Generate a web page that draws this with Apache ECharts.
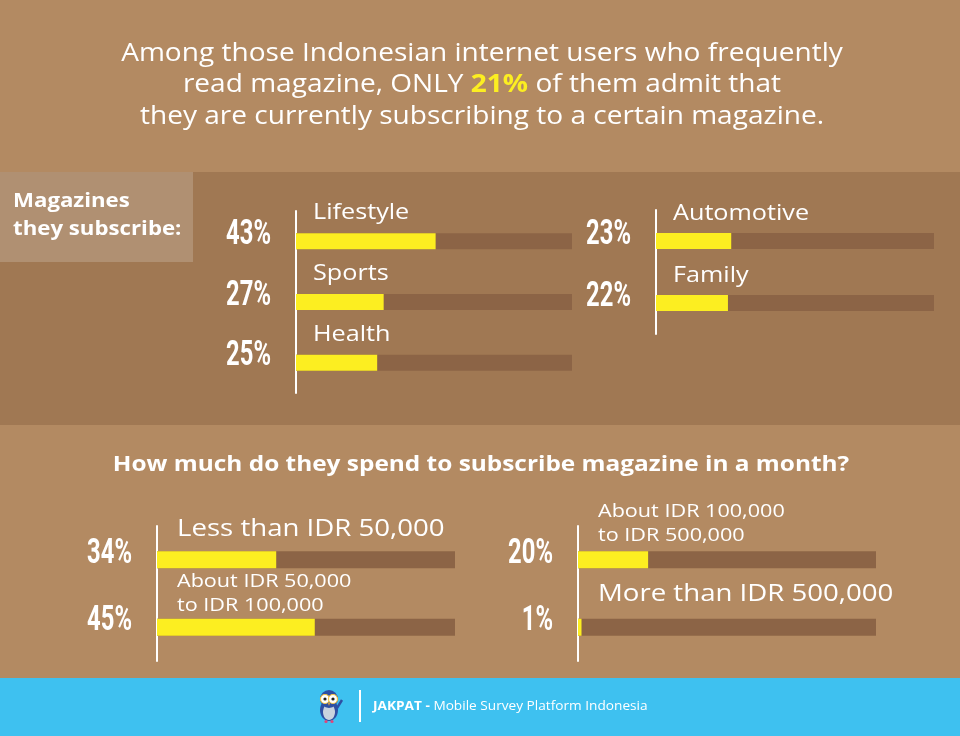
<!DOCTYPE html>
<html><head><meta charset="utf-8">
<script src="https://cdn.jsdelivr.net/npm/echarts@6/dist/echarts.min.js"></script>
<style>html,body{margin:0;padding:0;background:#B38A62}#c{width:960px;height:736px}</style>
</head><body><div id="c"></div>
<script>
// ---- data ----
const magazineCategoriesLeft = ['Lifestyle', 'Sports', 'Health'];
const magazineValuesLeft = [43, 27, 25];
const magazineCategoriesRight = ['Automotive', 'Family'];
const magazineValuesRight = [23, 22];
const spendCategoriesLeft = ['Less than IDR 50,000', 'About IDR 50,000\nto IDR 100,000'];
const spendValuesLeft = [34, 45];
const spendCategoriesRight = ['About IDR 100,000\nto IDR 500,000', 'More than IDR 500,000'];
const spendValuesRight = [20, 1];
const subscribingShare = 21;

const titleLines = [
  'Among those Indonesian internet users who frequently',
  'read magazine, ONLY {y|' + subscribingShare + '%} of them admit that',
  'they are currently subscribing to a certain magazine.'
];
const sectionLabel = 'Magazines\nthey subscribe:';
const spendQuestion = 'How much do they spend to subscribe magazine in a month?';

// ---- style ----
const TAN = '#B38A62', BAND = '#A07853', BOX = '#B09072', TRACK = '#8C6446',
      YELLOW = '#FCEE21', CYAN = '#3EC1F0';
const LABEL_FONT = '"Open Sans", "Noto Sans", sans-serif';
const PCT_FONT = 'Roboto, "Open Sans", sans-serif';
const WIDEN = 1.2;
const TRACK_MAX = 85;

const groups = [
  {cats: magazineCategoriesLeft, vals: magazineValuesLeft, grid: {left: 296, top: 211, width: 276, height: 182}, bw: 16, lx: 17, ly: -20, fs: 21},
  {cats: magazineCategoriesRight, vals: magazineValuesRight, grid: {left: 656, top: 210, width: 278, height: 124}, bw: 16, lx: 17, ly: -19, fs: 21},
  {cats: spendCategoriesLeft, vals: spendValuesLeft, grid: {left: 157, top: 526, width: 298, height: 135}, bw: 17, lx: 20, ly: -22, fs: 23},
  {cats: spendCategoriesRight, vals: spendValuesRight, grid: {left: 578, top: 526, width: 298, height: 135}, bw: 17, lx: 20, ly: -24, fs: 23}
];

const grid = [], xAxis = [], yAxis = [], series = [];
groups.forEach((g, i) => {
  grid.push(Object.assign({containLabel: false}, g.grid));
  xAxis.push({type: 'value', gridIndex: i, min: 0, max: TRACK_MAX, show: false});
  yAxis.push({
    type: 'category', gridIndex: i, inverse: true, data: g.cats,
    axisLine: {show: true, lineStyle: {color: '#ffffff', width: 2}},
    axisTick: {show: false}, splitLine: {show: false}, axisLabel: {show: false}
  });
  series.push({
    type: 'bar', xAxisIndex: i, yAxisIndex: i, barWidth: g.bw,
    itemStyle: {color: YELLOW},
    showBackground: true, backgroundStyle: {color: TRACK},
    data: g.vals.slice()
  });
  // text labels (percent on the left of the axis, category name above the bar)
  series.push({
    type: 'custom', xAxisIndex: i, yAxisIndex: i, clip: false, z: 5,
    encode: {x: 0, y: 1},
    data: g.vals.map((v, idx) => [v, idx]),
    renderItem: (params, api) => {
      const idx = api.value(1);
      const pt = api.coord([0, idx]);
      const cat = g.cats[idx];
      const multi = cat.indexOf('\n') >= 0;
      const fs = multi ? 18 : g.fs;
      return {
        type: 'group',
        children: [
          {type: 'text', x: pt[0] - 25, y: pt[1] - 6, scaleX: 0.68,
           style: {text: g.vals[idx] + '%', fill: '#fff', fontFamily: PCT_FONT, fontWeight: 'bold',
                   fontSize: 35, align: 'right', verticalAlign: 'middle'}},
          {type: 'text', x: pt[0] + g.lx, y: pt[1] - g.bw / 2 + (multi ? g.ly - 3 : g.ly), scaleX: WIDEN,
           style: {text: cat, fill: '#fff', fontFamily: LABEL_FONT, fontSize: fs,
                   lineHeight: multi ? 24 : fs + 4, align: 'left', verticalAlign: 'middle'}}
        ]
      };
    }
  });
});

const graphic = [
  {type: 'rect', z: -10, shape: {x: 0, y: 172, width: 960, height: 253}, style: {fill: BAND}},
  {type: 'rect', z: -9, shape: {x: 0, y: 172, width: 193, height: 90}, style: {fill: BOX}},
  {type: 'text', z: 5, x: 13, y: 216, scaleX: 1.17, style: {
    text: sectionLabel, fill: '#fff', font: 'bold 19px ' + LABEL_FONT, lineHeight: 28,
    verticalAlign: 'middle', align: 'left'}},
  {type: 'text', z: 5, x: 482, y: 85, scaleX: 1.1, style: {
    text: titleLines.join('\n'), fill: '#fff', font: '25.5px ' + LABEL_FONT, lineHeight: 31.5,
    align: 'center', verticalAlign: 'middle',
    rich: {y: {fill: YELLOW, fontWeight: 'bold', fontSize: 25.5, fontFamily: LABEL_FONT}}}},
  {type: 'text', z: 5, x: 481, y: 465, scaleX: 1.19, style: {
    text: spendQuestion, fill: '#fff', font: 'bold 20.5px ' + LABEL_FONT,
    align: 'center', verticalAlign: 'middle'}},
  // footer
  {type: 'rect', z: -10, shape: {x: 0, y: 678, width: 960, height: 58}, style: {fill: CYAN}},
  {type: 'line', z: 5, shape: {x1: 360, y1: 690, x2: 360, y2: 722}, style: {stroke: '#fff', lineWidth: 2}},
  {type: 'text', z: 5, x: 373, y: 706, scaleX: 1.05, style: {
    text: '{b|JAKPAT -} Mobile Survey Platform Indonesia', fill: '#fff', font: '13px ' + LABEL_FONT,
    verticalAlign: 'middle', align: 'left',
    rich: {b: {fontWeight: 'bold', fontSize: 13, fill: '#fff', fontFamily: LABEL_FONT}}}},
  // owl icon
  {type: 'group', z: 5, x: 318, y: 688, children: [
    {type: 'ellipse', shape: {cx: 11, cy: 22, rx: 9, ry: 11}, style: {fill: '#2E4FA3'}},
    {type: 'ellipse', shape: {cx: 11, cy: 24, rx: 6, ry: 8}, style: {fill: '#C9D3DE'}},
    {type: 'circle', shape: {cx: 11, cy: 11, r: 9}, style: {fill: '#2E4FA3'}},
    {type: 'circle', shape: {cx: 7, cy: 11, r: 4.5}, style: {fill: '#fff', stroke: '#F5C542', lineWidth: 1.2}},
    {type: 'circle', shape: {cx: 15, cy: 11, r: 4.5}, style: {fill: '#fff', stroke: '#F5C542', lineWidth: 1.2}},
    {type: 'circle', shape: {cx: 7, cy: 11, r: 1.6}, style: {fill: '#222'}},
    {type: 'circle', shape: {cx: 15, cy: 11, r: 1.6}, style: {fill: '#222'}},
    {type: 'polygon', shape: {points: [[10, 15], [12, 15], [11, 18]]}, style: {fill: '#F5A623'}},
    {type: 'line', shape: {x1: 19, y1: 20, x2: 24, y2: 12}, style: {stroke: '#2E4FA3', lineWidth: 2.5}},
    {type: 'circle', shape: {cx: 8, cy: 33.5, r: 1.6}, style: {fill: '#E0457B'}},
    {type: 'circle', shape: {cx: 14, cy: 33.5, r: 1.6}, style: {fill: '#E0457B'}}
  ]}
];

const chart = echarts.init(document.getElementById('c'));
chart.setOption({
  animation: false,
  backgroundColor: TAN,
  grid, xAxis, yAxis, series, graphic
});
</script>
</body></html>
